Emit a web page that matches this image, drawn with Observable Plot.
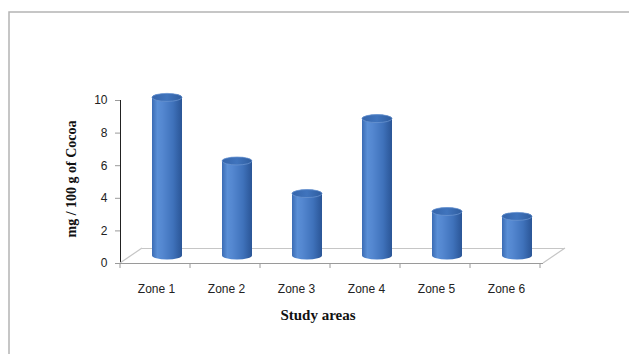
<!DOCTYPE html>
<html>
<head>
<meta charset="utf-8">
<script src="https://cdn.jsdelivr.net/npm/d3@7"></script>
<script src="https://cdn.jsdelivr.net/npm/@observablehq/plot@0.6"></script>
<style>
  html, body { margin: 0; padding: 0; background: #fff; }
  #chart { position: relative; width: 629px; height: 354px; overflow: hidden; }
</style>
</head>
<body>
<div id="chart"></div>
<script>
// Concentration per study area (mg / 100 g of cocoa)
const zones = ["Zone 1", "Zone 2", "Zone 3", "Zone 4", "Zone 5", "Zone 6"];
const values = [9.7, 5.8, 3.8, 8.4, 2.7, 2.4];
const yTicks = [0, 2, 4, 6, 8, 10];
const yLabel = "mg / 100 g of Cocoa";
const xLabel = "Study areas";

const data = zones.map((zone, i) => ({zone, value: values[i]}));

// pseudo-3D depth: floor runs back by (22, -15); bars sit at half depth
const depthX = 22, depthY = -15;
const barDx = depthX / 2, barDy = depthY / 2;
const capRy = 4;

const plot = Plot.plot({
  width: 629,
  height: 354,
  marginLeft: 120,
  marginRight: 86,
  marginTop: 100,
  marginBottom: 91,
  style: {
    fontFamily: "'Liberation Sans', Arial, sans-serif",
    fontSize: "12px",
    color: "#222",
    background: "transparent",
    overflow: "visible"
  },
  x: {domain: zones, paddingInner: 0.57, paddingOuter: 0.285, tickSize: 0, tickPadding: 21, label: null},
  y: {domain: [0, 10], ticks: yTicks, tickSize: 5, tickPadding: 8, line: true, label: null},
  marks: [
    // back edge of the floor
    Plot.ruleY([0], {dx: depthX, dy: depthY, stroke: "#c6c6c6", strokeWidth: 1.2}),
    // cylinder bodies
    Plot.barY(data, {
      x: "zone", y: "value",
      fill: "url(#cylBody)",
      rx: 20, ry: capRy,
      insetTop: -capRy, insetBottom: -capRy,
      dx: barDx, dy: barDy
    }),
    // cylinder caps
    Plot.barY(data, {
      x: "zone", y1: "value", y2: "value",
      fill: "url(#cylCap)", stroke: "#6f98d3", strokeWidth: 0.7,
      rx: 20, ry: capRy,
      insetTop: -capRy, insetBottom: -capRy,
      dx: barDx, dy: barDy
    }),
    // front edge of the floor / category axis line
    Plot.ruleY([0], {stroke: "#9a9a9a", strokeWidth: 1}),
    // axis titles
    Plot.text([yLabel], {
      text: d => d, frameAnchor: "left", textAnchor: "middle", rotate: -90, dx: -49, dy: -3,
      fontFamily: "'Liberation Serif', 'Times New Roman', serif", fontWeight: "bold", fontSize: 14, fill: "#111"
    }),
    Plot.text([xLabel], {
      text: d => d, frameAnchor: "bottom", dx: -14, dy: 56,
      fontFamily: "'Liberation Serif', 'Times New Roman', serif", fontWeight: "bold", fontSize: 15, fill: "#111"
    })
  ]
});

const svg = d3.select(plot);

// gradients for the cylinders
const defs = svg.insert("defs", ":first-child");
const body = defs.append("linearGradient").attr("id", "cylBody")
  .attr("x1", 0).attr("x2", 1).attr("y1", 0).attr("y2", 0);
[[0, "#3b6cb4"], [0.18, "#5a8fd6"], [0.35, "#5487d0"], [0.7, "#3f72bb"], [1, "#2a5596"]]
  .forEach(([o, c]) => body.append("stop").attr("offset", o).attr("stop-color", c));
const cap = defs.append("linearGradient").attr("id", "cylCap")
  .attr("x1", 0).attr("x2", 1).attr("y1", 0).attr("y2", 0);
[[0, "#3565ab"], [0.5, "#4074bd"], [1, "#2f5d9f"]]
  .forEach(([o, c]) => cap.append("stop").attr("offset", o).attr("stop-color", c));

// axis colours: grey lines, dark labels
svg.selectAll('[aria-label^="y-axis"] path, [aria-label^="y-axis"] line, [aria-label^="x-axis"] path, [aria-label^="x-axis"] line')
  .attr("stroke", "#9a9a9a");

// floor sides and category boundary ticks, placed from the plot's scales
const xs = plot.scale("x");
const y0 = plot.scale("y").apply(0);
const [xL, xR] = xs.range;
const deco = svg.append("g").attr("stroke", "#9a9a9a").attr("fill", "none");
const floor = svg.insert("g", "g").attr("stroke", "#c6c6c6").attr("stroke-width", 1.2).attr("fill", "none");
floor.append("line").attr("x1", xL).attr("y1", y0).attr("x2", xL + depthX).attr("y2", y0 + depthY);
floor.append("line").attr("x1", xR).attr("y1", y0).attr("x2", xR + depthX).attr("y2", y0 + depthY);
d3.range(zones.length + 1).forEach(i => {
  const x = xL + i * xs.step;
  deco.append("line").attr("x1", x).attr("x2", x).attr("y1", y0).attr("y2", y0 + 5);
});

// outer chart-area border
svg.append("rect")
  .attr("x", 9).attr("y", 12).attr("width", 700).attr("height", 400)
  .attr("fill", "none").attr("stroke", "#b4b4b4").attr("stroke-width", 1.5);

document.getElementById("chart").appendChild(plot);
</script>
</body>
</html>
